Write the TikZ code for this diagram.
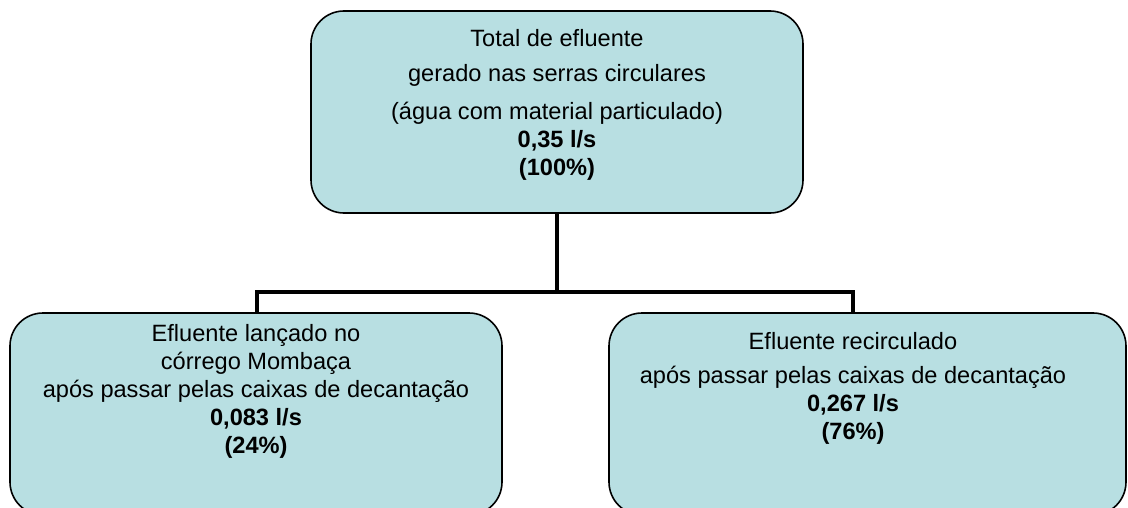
\documentclass[tikz,border=0pt]{standalone}
\usepackage{fontspec}
\setmainfont{Liberation Sans}
\usetikzlibrary{positioning}
\definecolor{boxfill}{RGB}{184,223,226}
\tikzset{flowbox/.style={rectangle,
                        rounded corners=33pt,
                        draw=black,
                        line width=1.6pt,
                        fill=boxfill,
                        inner sep=0pt
                        },
        flowtext/.style={align=center,
                        inner sep=0pt,
                        font=\fontsize{23.6}{28}\selectfont
        },
        flowline/.style={line width=4.5pt},
}

\begin{document}
\begin{tikzpicture}
    [x=1pt,y=-1pt]

    \useasboundingbox (0,0) rectangle (1128,508);
    \clip (0,0) rectangle (1128,508);

    % TOTAL
    \node[flowbox, minimum width=492pt, minimum height=202pt] (total) at (557,112) {};

    \node[flowtext, anchor=north, below=19pt of total.north] (totalText) {
        Total de efluente \\[7pt]
        gerado nas serras circulares \\[10pt]
        (água com material particulado) \\
        \textbf{0,35 l/s} \\
        \textbf{(100\%)}
    };

    % BRANCHES
    \node[flowbox, minimum width=492pt, minimum height=202pt] (lancado) at (256,414) {};
    \node[flowbox, minimum width=517pt, minimum height=202pt] (recirculado) at (867.5,414) {};

    \coordinate (forkL) at (257,292);
    \coordinate (forkR) at (853,292);

    \node[flowtext, anchor=north, below=12pt of lancado.north] (lancadoText) {
        Efluente lançado no \\
        córrego Mombaça \\
        após passar pelas caixas de decantação \\
        \textbf{0,083 l/s} \\
        \textbf{(24\%)}
    };

    \node[flowtext, anchor=north] (recirculadoText) at (853,332) {
        Efluente recirculado \\[6pt]
        após passar pelas caixas de decantação \\
        \textbf{0,267 l/s} \\
        \textbf{(76\%)}
    };

    \draw[flowline] (total.south) -- (total.south |- forkL);
    \draw[flowline] (forkL |- lancado.north) -- (forkL) -- (forkR) -- (forkR |- recirculado.north);

\end{tikzpicture}
\end{document}
